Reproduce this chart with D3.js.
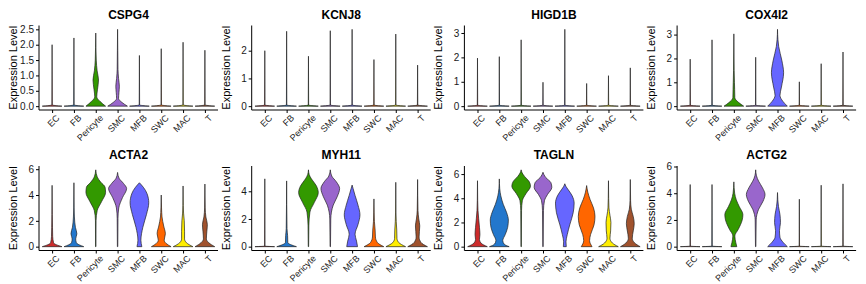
<!DOCTYPE html>
<html>
<head>
<meta charset="utf-8">
<script src="https://cdn.jsdelivr.net/npm/d3@7"></script>
<style>
  body { margin: 0; background: #fff; }
  svg text { font-family: "Liberation Sans", Arial, sans-serif; }
  .axis path, .axis line { stroke: #000; }
  .axis text { fill: #1a1a1a; }
</style>
</head>
<body>
<div id="chart"></div>
<script>

const cellTypes = ["EC", "FB", "Pericyte", "SMC", "MFB", "SWC", "MAC", "T"];
const cellColors = ["#cc2b2b", "#2377cc", "#339900", "#9966cc", "#6666ff", "#ff6600", "#ffee00", "#a0522d"];
const genes = ["CSPG4", "KCNJ8", "HIGD1B", "COX4I2", "ACTA2", "MYH11", "TAGLN", "ACTG2"];
const yTicks = [
  [0, 0.5, 1, 1.5, 2, 2.5], [0, 1, 2], [0, 1, 2, 3], [0, 1, 2, 3],
  [0, 2, 4, 6], [0, 2, 4], [0, 2, 4, 6], [0, 2, 4, 6]
];

// violin outlines per cell type: [expression value, relative half width]
const CSPG4 = [
  [[0, 1], [0.04, 0.02], [2.0, 0]],
  [[0, 1], [0.04, 0.02], [2.22, 0]],
  [[0, 1], [0.15, 0.45], [0.3, 0.1], [0.55, 0.18], [0.85, 0.28], [1.15, 0.14], [1.5, 0.05], [1.9, 0.02], [2.38, 0]],
  [[0, 1], [0.12, 0.45], [0.25, 0.1], [0.45, 0.14], [0.65, 0.18], [0.9, 0.1], [1.2, 0.04], [1.8, 0.02], [2.5, 0]],
  [[0, 1], [0.04, 0.02], [1.65, 0]],
  [[0, 1], [0.04, 0.02], [1.87, 0]],
  [[0, 1], [0.04, 0.02], [2.08, 0]],
  [[0, 1], [0.04, 0.02], [1.82, 0]]
];
const KCNJ8 = [
  [[0, 1], [0.04, 0.02], [2.0, 0]],
  [[0, 1], [0.04, 0.02], [2.7, 0]],
  [[0, 1], [0.04, 0.02], [1.8, 0]],
  [[0, 1], [0.04, 0.02], [2.72, 0]],
  [[0, 1], [0.04, 0.02], [2.77, 0]],
  [[0, 1], [0.04, 0.02], [1.68, 0]],
  [[0, 1], [0.04, 0.02], [2.6, 0]],
  [[0, 1], [0.04, 0.02], [1.48, 0]]
];
const HIGD1B = [
  [[0, 1], [0.04, 0.02], [1.97, 0]],
  [[0, 1], [0.04, 0.02], [2.03, 0]],
  [[0, 1], [0.04, 0.02], [2.72, 0]],
  [[0, 1], [0.04, 0.02], [0.98, 0]],
  [[0, 1], [0.04, 0.02], [3.15, 0]],
  [[0, 1], [0.04, 0.02], [0.93, 0]],
  [[0, 1], [0.04, 0.02], [1.25, 0]],
  [[0, 1], [0.04, 0.02], [1.57, 0]]
];
const COX4I2 = [
  [[0, 1], [0.04, 0.02], [1.97, 0]],
  [[0, 1], [0.04, 0.02], [2.78, 0]],
  [[0, 1], [0.15, 0.5], [0.35, 0.1], [0.7, 0.08], [1.0, 0.06], [1.5, 0.03], [3.03, 0]],
  [[0, 1], [0.04, 0.02], [2.05, 0]],
  [[0, 1], [0.2, 0.55], [0.45, 0.25], [0.8, 0.4], [1.4, 0.62], [1.9, 0.45], [2.5, 0.12], [2.8, 0.04], [3.22, 0]],
  [[0, 1], [0.04, 0.02], [1.02, 0]],
  [[0, 1], [0.04, 0.02], [1.78, 0]],
  [[0, 1], [0.04, 0.02], [2.27, 0]]
];
const ACTA2 = [
  [[0, 1], [0.3, 0.15], [0.8, 0.06], [1.5, 0.04], [2.5, 0.02], [4.75, 0]],
  [[0, 1], [0.3, 0.25], [0.6, 0.18], [1.0, 0.3], [1.5, 0.15], [2.3, 0.05], [3.0, 0.02], [4.95, 0]],
  [[0, 0.02], [2.0, 0.03], [2.8, 0.15], [3.5, 0.6], [4.2, 1.0], [4.6, 0.95], [5.0, 0.5], [5.4, 0.15], [5.95, 0]],
  [[0, 0.02], [2.2, 0.04], [3.0, 0.12], [3.8, 0.5], [4.5, 0.92], [4.9, 0.6], [5.3, 0.15], [5.75, 0]],
  [[0, 0.25], [0.5, 0.15], [1.5, 0.35], [2.5, 0.72], [3.4, 0.95], [4.1, 0.78], [4.6, 0.4], [4.95, 0]],
  [[0, 1], [0.25, 0.5], [0.5, 0.3], [1.0, 0.42], [1.6, 0.25], [2.3, 0.08], [3.0, 0.03], [4.0, 0]],
  [[0, 1], [0.3, 0.35], [0.6, 0.15], [1.2, 0.15], [2.0, 0.12], [2.6, 0.05], [3.2, 0.02], [4.7, 0]],
  [[0, 1], [0.3, 0.4], [0.6, 0.15], [1.2, 0.2], [1.7, 0.25], [2.3, 0.1], [3.0, 0.03], [4.85, 0]]
];
const MYH11 = [
  [[0, 1], [0.04, 0.02], [4.9, 0]],
  [[0, 1], [0.3, 0.12], [0.8, 0.1], [1.3, 0.04], [4.75, 0]],
  [[0, 0.02], [1.5, 0.04], [2.5, 0.15], [3.2, 0.6], [3.9, 1.0], [4.4, 0.8], [4.9, 0.3], [5.2, 0.08], [5.55, 0]],
  [[0, 0.02], [2.0, 0.05], [3.0, 0.3], [3.6, 0.7], [4.2, 0.95], [4.7, 0.6], [5.1, 0.15], [5.55, 0]],
  [[0, 0.55], [0.4, 0.45], [0.9, 0.3], [1.6, 0.6], [2.3, 0.8], [3.0, 0.6], [3.7, 0.3], [4.2, 0.1], [4.45, 0]],
  [[0, 1], [0.3, 0.35], [0.7, 0.15], [1.2, 0.12], [1.8, 0.05], [2.5, 0.02], [3.45, 0]],
  [[0, 1], [0.3, 0.3], [0.6, 0.12], [1.2, 0.1], [1.8, 0.05], [2.5, 0.02], [4.65, 0]],
  [[0, 1], [0.3, 0.35], [0.7, 0.15], [1.5, 0.22], [2.0, 0.12], [2.6, 0.04], [4.85, 0]]
];
const TAGLN = [
  [[0, 1], [0.3, 0.35], [0.6, 0.2], [1.0, 0.25], [1.6, 0.2], [2.3, 0.12], [3.0, 0.05], [3.8, 0.02], [5.45, 0]],
  [[0, 1], [0.2, 0.5], [0.5, 0.35], [1.0, 0.6], [1.6, 0.85], [2.2, 0.92], [2.8, 0.75], [3.5, 0.4], [4.2, 0.15], [4.8, 0.04], [5.6, 0]],
  [[0, 0.02], [3.0, 0.04], [3.8, 0.12], [4.4, 0.5], [5.0, 0.95], [5.4, 0.8], [5.8, 0.35], [6.1, 0.1], [6.35, 0]],
  [[0, 0.02], [3.0, 0.05], [3.8, 0.15], [4.3, 0.45], [4.9, 0.9], [5.3, 0.8], [5.7, 0.3], [5.95, 0.1], [6.15, 0]],
  [[0, 0.15], [0.4, 0.12], [1.0, 0.25], [1.8, 0.5], [2.8, 0.85], [3.6, 0.95], [4.2, 0.75], [4.7, 0.35], [5.0, 0.1], [5.2, 0]],
  [[0, 0.55], [0.5, 0.3], [1.0, 0.4], [1.8, 0.75], [2.5, 0.85], [3.2, 0.7], [3.9, 0.35], [4.5, 0.12], [5.05, 0]],
  [[0, 1], [0.3, 0.4], [0.7, 0.15], [1.3, 0.22], [2.0, 0.25], [2.6, 0.15], [3.2, 0.05], [4.0, 0.02], [5.45, 0]],
  [[0, 1], [0.3, 0.45], [0.7, 0.2], [1.3, 0.3], [1.9, 0.4], [2.5, 0.3], [3.1, 0.1], [3.8, 0.03], [5.55, 0]]
];
const ACTG2 = [
  [[0, 1], [0.04, 0.02], [4.65, 0]],
  [[0, 1], [0.04, 0.02], [4.65, 0]],
  [[0, 0.3], [0.3, 0.2], [0.8, 0.1], [1.3, 0.45], [2.0, 0.85], [2.4, 0.92], [3.0, 0.55], [3.5, 0.25], [4.0, 0.08], [4.85, 0]],
  [[0, 0.02], [2.0, 0.05], [2.8, 0.3], [3.4, 0.75], [3.9, 0.95], [4.4, 0.7], [4.9, 0.3], [5.3, 0.08], [5.75, 0]],
  [[0, 1], [0.3, 0.6], [0.7, 0.25], [1.2, 0.2], [1.8, 0.3], [2.4, 0.25], [3.0, 0.1], [3.5, 0.03], [4.05, 0]],
  [[0, 1], [0.04, 0.02], [3.55, 0]],
  [[0, 1], [0.04, 0.02], [4.6, 0]],
  [[0, 1], [0.04, 0.02], [4.7, 0]]
];
const geneViolins = [CSPG4, KCNJ8, HIGD1B, COX4I2, ACTA2, MYH11, TAGLN, ACTG2];

const W = 866, H = 284;
const colW = 212.7, axisX0 = 39, plotW = 179;
const rowTops = [25.5, 166], plotH = 84.5;

const svg = d3.select("#chart").append("svg")
  .attr("width", W).attr("height", H);

genes.forEach((gene, gi) => {
  const col = gi % 4, row = Math.floor(gi / 4);
  const left = axisX0 + col * colW, top = rowTops[row];
  const violins = geneViolins[gi];
  const vmax = d3.max(violins, v => d3.max(v, d => d[0]));

  const x = d3.scalePoint().domain(cellTypes)
    .range([left, left + plotW]).padding(0.6);
  const y = d3.scaleLinear()
    .domain([-0.05 * vmax, vmax * 1.05])
    .range([top + plotH, top]);
  const halfW = x.step() * 0.45;

  const g = svg.append("g").attr("class", "panel");

  violins.forEach((prof, ci) => {
    const cx = x(cellTypes[ci]);
    const area = d3.area()
      .y(d => y(d[0]))
      .x0(d => cx - d[1] * halfW)
      .x1(d => cx + d[1] * halfW)
      .curve(d3.curveMonotoneY);
    g.append("path")
      .attr("d", area(prof))
      .attr("fill", cellColors[ci])
      .attr("stroke", "#222")
      .attr("stroke-width", 0.7);
  });

  const fmt = gi === 0 ? d3.format(".1f") : d3.format("d");
  g.append("g").attr("class", "axis")
    .attr("transform", `translate(${left},0)`)
    .call(d3.axisLeft(y).tickValues(yTicks[gi]).tickFormat(fmt).tickSize(3).tickPadding(2))
    .call(a => a.select(".domain").attr("d", `M0,${top}V${top + plotH}`))
    .call(a => a.selectAll("text").style("font-size", "10px"));

  g.append("g").attr("class", "axis")
    .attr("transform", `translate(0,${top + plotH})`)
    .call(d3.axisBottom(x).tickSize(3).tickPadding(2))
    .call(a => a.select(".domain").attr("d", `M${left},0H${left + plotW}`))
    .call(a => a.selectAll("text")
      .style("font-size", "9px")
      .attr("text-anchor", "end")
      .attr("dy", null)
      .attr("transform", "translate(3,4) rotate(-45)")
      .attr("y", 0).attr("x", 0)
      .attr("dominant-baseline", "hanging"));

  g.append("text")
    .attr("x", left + plotW / 2)
    .attr("y", top - 7)
    .attr("text-anchor", "middle")
    .style("font-size", "12px")
    .style("font-weight", "bold")
    .text(gene);

  g.append("text")
    .attr("transform", `translate(${left - 22},${top + plotH / 2}) rotate(-90)`)
    .attr("text-anchor", "middle")
    .style("font-size", "11px")
    .attr("fill", "#000")
    .text("Expression Level");
});

</script>
</body>
</html>
